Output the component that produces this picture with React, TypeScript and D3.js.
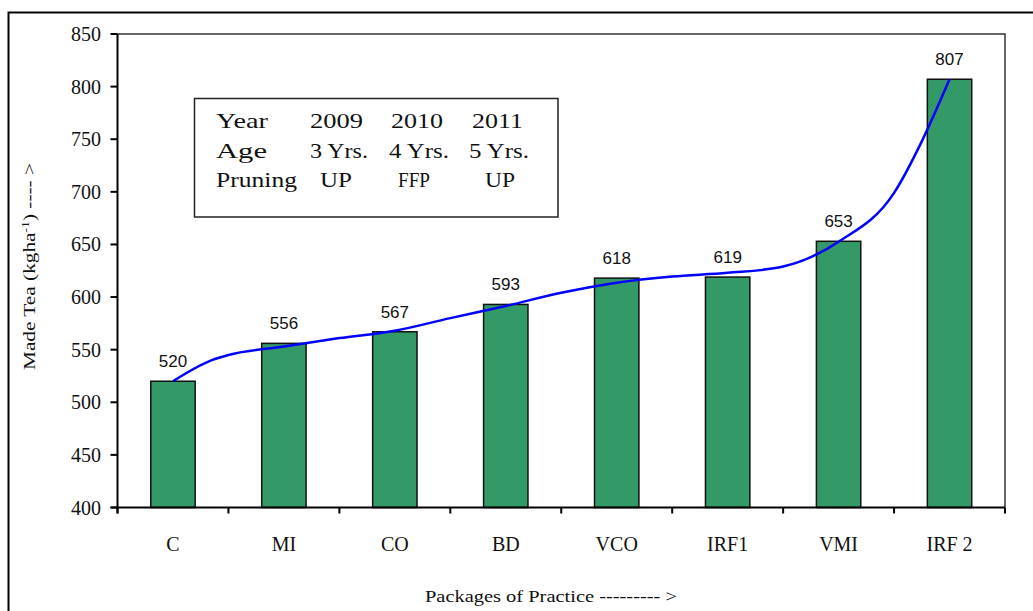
import React from "react";
import * as d3 from "d3";

// ---- data ----
const categories = ["C", "MI", "CO", "BD", "VCO", "IRF1", "VMI", "IRF 2"];
const yields = [520, 556, 567, 593, 618, 619, 653, 807];
const yTicks = [400, 450, 500, 550, 600, 650, 700, 750, 800, 850];
// blue trend curve, read along its path (position in category units, value)
const trendPos = [0, 0.35, 0.5, 1, 1.5, 2, 2.5, 3, 3.5, 4, 4.5, 5, 5.5, 6, 6.5, 6.75, 7];
const trendVal = [520, 540, 545, 553, 561, 568, 580, 591.5, 604, 613.6, 619.5, 623, 629, 652.6, 699, 748, 807];
const legendRows = [
  ["Year", "2009", "2010", "2011"],
  ["Age", "3 Yrs.", "4 Yrs.", "5 Yrs."],
  ["Pruning", "UP", "FFP", "UP"],
];
const xTitle = "Packages of Practice --------- >";

export default function App() {
  const W = 1033, H = 611;
  const left = 117.5, right = 1005, top = 34, bottom = 507.5;

  const x = d3.scaleBand<string>().domain(categories).range([left, right]).paddingInner(0.6).paddingOuter(0.3);
  const step = x.step();
  const xIdx = d3.scaleLinear().domain([-0.5, categories.length - 0.5]).range([left, right]);
  const y = d3.scaleLinear().domain([400, 850]).range([bottom, top]);

  const line = d3
    .line<number>()
    .x((_, i) => xIdx(trendPos[i]))
    .y((d) => y(d))
    .curve(d3.curveMonotoneX);

  const serif = "'Liberation Serif', 'Times New Roman', serif";
  const sans = "'Liberation Sans', Arial, sans-serif";

  // legend layout
  const legX = 194.5, legY = 98.5, legW = 363.5, legH = 118.5;
  const colX = [216, 310, 390, 470];
  const rowY = [128, 158, 187];
  const cellLen = [
    [52, 53, 52, 51],
    [51, 58, 60, 60],
    [81, 32, 32, 30],
  ];
  const cellDx = [
    [0, 0, 1, 2],
    [0, 0, -1, -1],
    [0, 10, 8, 15],
  ];

  return (
    <svg width={W} height={H} style={{ position: "absolute", left: 0, top: 0, background: "#fff" }}>
      <rect x={0} y={0} width={W} height={H} fill="#fff" />
      {/* outer frame */}
      <rect x={8.5} y={12.5} width={1060} height={640} fill="none" stroke="#000" strokeWidth={2} />

      {/* plot box (top, right) */}
      <path d={`M${left},${top}H${right}V${bottom}`} fill="none" stroke="#333" strokeWidth={1.5} />

      {/* bars */}
      {categories.map((c, i) => (
        <rect
          key={c}
          x={x(c)}
          y={y(yields[i])}
          width={x.bandwidth()}
          height={bottom - y(yields[i])}
          fill="#339966"
          stroke="#111"
          strokeWidth={1.5}
        />
      ))}

      {/* trend line */}
      <path d={line(trendVal) || ""} fill="none" stroke="#0000ff" strokeWidth={2.5} />

      {/* value labels */}
      {categories.map((c, i) => (
        <text
          key={"v" + c}
          x={x(c)! + x.bandwidth() / 2}
          y={y(yields[i]) - 14}
          textAnchor="middle"
          fontFamily={sans}
          fontSize={17}
          fill="#111"
        >
          {yields[i]}
        </text>
      ))}

      {/* y axis */}
      <line x1={left} x2={left} y1={top} y2={bottom + 6} stroke="#000" strokeWidth={2} />
      {yTicks.map((t) => (
        <g key={"yt" + t}>
          <line x1={left - 7} x2={left} y1={y(t)} y2={y(t)} stroke="#000" strokeWidth={2} />
          <text x={101} y={y(t) + 7} textAnchor="end" fontFamily={serif} fontSize={20} fill="#111">
            {t}
          </text>
        </g>
      ))}

      {/* x axis */}
      <line x1={left - 7} x2={right} y1={bottom} y2={bottom} stroke="#000" strokeWidth={2} />
      {d3.range(categories.length + 1).map((k) => (
        <line
          key={"xt" + k}
          x1={left + k * step}
          x2={left + k * step}
          y1={bottom}
          y2={bottom + 6}
          stroke="#000"
          strokeWidth={2}
        />
      ))}
      {categories.map((c) => (
        <text
          key={"xl" + c}
          x={x(c)! + x.bandwidth() / 2}
          y={551}
          textAnchor="middle"
          fontFamily={serif}
          fontSize={20}
          fill="#111"
        >
          {c}
        </text>
      ))}

      {/* axis titles */}
      <text x={425} y={602} fontFamily={serif} fontSize={17} fill="#111" textLength={252} lengthAdjust="spacingAndGlyphs">
        {xTitle}
      </text>
      <text
        transform="translate(35,370) rotate(-90)"
        fontFamily={serif}
        fontSize={17}
        fill="#111"
        textLength={207}
        lengthAdjust="spacingAndGlyphs"
      >
        Made Tea (kgha
        <tspan dy={-6} fontSize={11}>-1</tspan>
        <tspan dy={6}>) ---- &gt;</tspan>
      </text>

      {/* legend box */}
      <rect x={legX} y={legY} width={legW} height={legH} fill="#fff" stroke="#222" strokeWidth={1.5} />
      {legendRows.map((row, r) =>
        row.map((cell, c) => (
          <text
            key={`lg${r}-${c}`}
            x={colX[c] + cellDx[r][c]}
            y={rowY[r]}
            fontFamily={serif}
            fontSize={21}
            fill="#111"
            textLength={cellLen[r][c]}
            lengthAdjust="spacingAndGlyphs"
          >
            {cell}
          </text>
        ))
      )}
    </svg>
  );
}
